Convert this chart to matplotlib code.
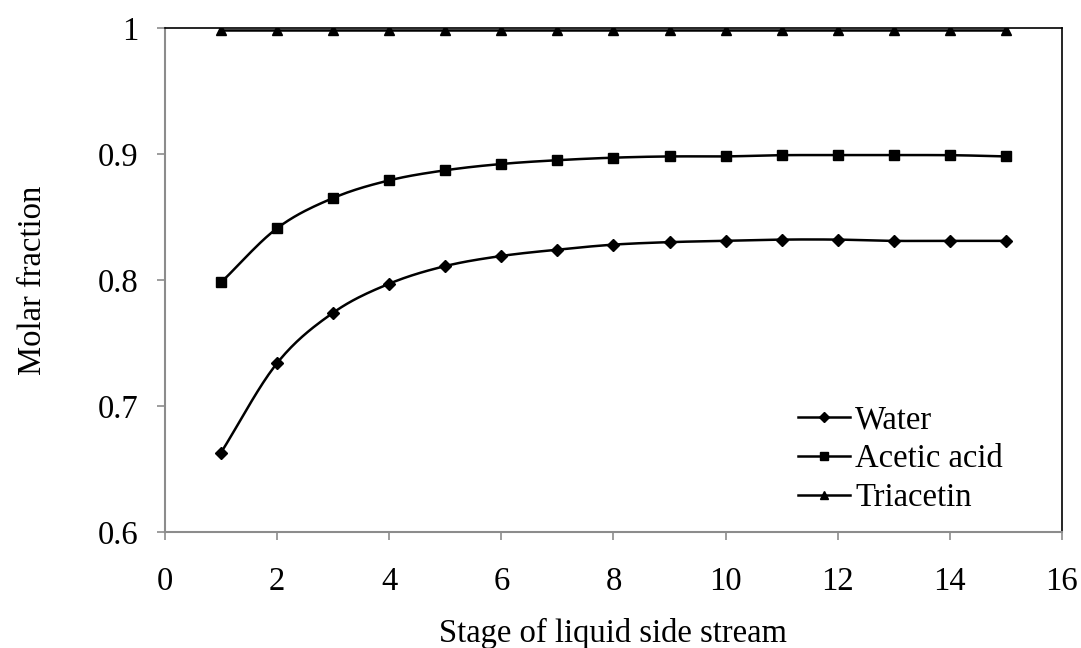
import matplotlib.pyplot as plt
import numpy as np

FONTSIZE = 23.5

stages = [1, 2, 3, 4, 5, 6, 7, 8, 9, 10, 11, 12, 13, 14, 15]
water = [0.663, 0.734, 0.774, 0.797, 0.811, 0.819, 0.824, 0.828, 0.830, 0.831,
         0.832, 0.832, 0.831, 0.831, 0.831]
acetic_acid = [0.798, 0.841, 0.865, 0.879, 0.887, 0.892, 0.895, 0.897, 0.898, 0.898,
               0.899, 0.899, 0.899, 0.899, 0.898]
triacetin = [0.998, 0.998, 0.998, 0.998, 0.998, 0.998, 0.998, 0.998, 0.998, 0.998,
             0.998, 0.998, 0.998, 0.998, 0.998]


def smooth(x, y, n=20):
    # Catmull-Rom spline through the points, like Excel's smoothed line
    x = np.asarray(x, float)
    y = np.asarray(y, float)
    px = np.concatenate([[2 * x[0] - x[1]], x, [2 * x[-1] - x[-2]]])
    py = np.concatenate([[2 * y[0] - y[1]], y, [2 * y[-1] - y[-2]]])
    xs, ys = [], []
    t = np.linspace(0, 1, n, endpoint=False)
    for i in range(1, len(px) - 2):
        for p, out in ((px, xs), (py, ys)):
            p0, p1, p2, p3 = p[i - 1], p[i], p[i + 1], p[i + 2]
            out.extend(0.5 * (2 * p1 + (-p0 + p2) * t
                              + (2 * p0 - 5 * p1 + 4 * p2 - p3) * t ** 2
                              + (-p0 + 3 * p1 - 3 * p2 + p3) * t ** 3))
    xs.append(x[-1])
    ys.append(y[-1])
    return xs, ys


def main() -> None:
    plt.rcParams["font.family"] = ["Liberation Serif", "DejaVu Serif"]
    fig = plt.figure(figsize=(10.81, 6.48), dpi=100)
    ax = fig.add_axes([0.1526, 0.179, 0.8298, 0.778])

    series = [("Water", water, "D", 6.5), ("Acetic acid", acetic_acid, "s", 7),
              ("Triacetin", triacetin, "^", 7)]
    for label, values, marker, ms in series:
        sx, sy = smooth(stages, values)
        ax.plot(sx, sy, color="black", lw=1.8, zorder=3)
        ax.plot(stages, values, ls="none", marker=marker, ms=ms, color="black", zorder=4)
        ax.plot([], [], color="black", lw=1.8, marker=marker, ms=ms - 1.5, label=label)

    ax.set_xlim(0, 16)
    ax.set_ylim(0.6, 1.0)
    ax.set_xticks(range(0, 17, 2))
    ax.set_yticks([0.6, 0.7, 0.8, 0.9, 1.0])
    ax.set_yticklabels(["0.6", "0.7", "0.8", "0.9", "1"])
    ax.tick_params(labelsize=FONTSIZE, length=6, width=1.2, color="#8c8c8c")
    ax.tick_params(axis="x", pad=18.5)
    ax.tick_params(axis="y", pad=13)
    for side in ("left", "bottom"):
        ax.spines[side].set_color("#8c8c8c")
        ax.spines[side].set_linewidth(1.5)
    for side in ("top", "right"):
        ax.spines[side].set_color("black")
        ax.spines[side].set_linewidth(1.2)

    ax.set_xlabel("Stage of liquid side stream", fontsize=FONTSIZE)
    ax.set_ylabel("Molar fraction", fontsize=FONTSIZE)
    ax.xaxis.set_label_coords(0.5, -0.171)
    ax.yaxis.set_label_coords(-0.13, 0.5)
    ax.legend(loc="upper left", bbox_to_anchor=(0.706, 0.252), frameon=False,
              fontsize=FONTSIZE, handlelength=1.6, handletextpad=0.15,
              labelspacing=0.26, borderaxespad=0.0, borderpad=0.0)

    fig.savefig("out.png", dpi=100)


if __name__ == "__main__":
    main()
